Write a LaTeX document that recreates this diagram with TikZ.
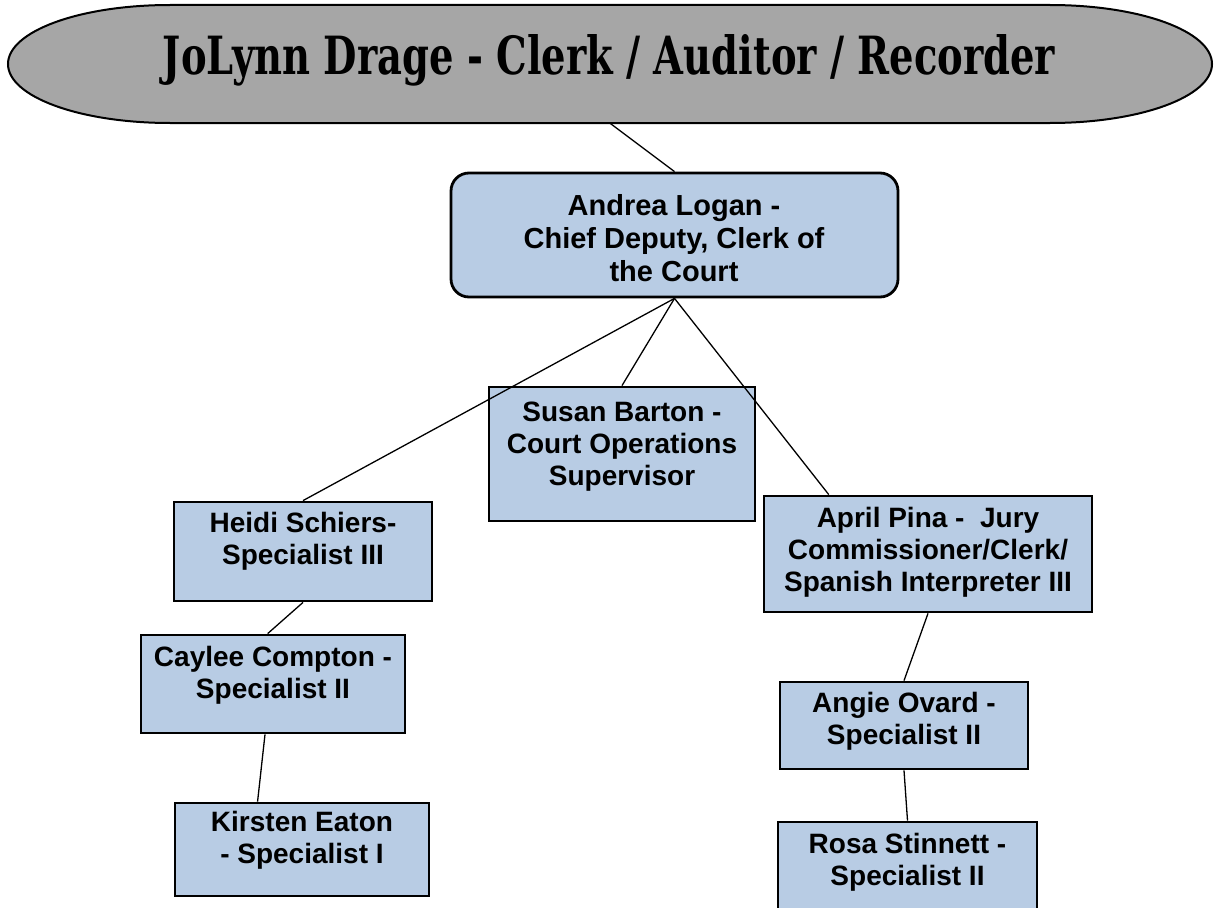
\documentclass[tikz,border=0pt]{standalone}
\usepackage{fontspec}
\usetikzlibrary{calc}
\newfontfamily\boxfont{Liberation Sans}
\newfontfamily\titlefont{DejaVu Serif Condensed}
\definecolor{boxblue}{HTML}{B8CCE4}
\definecolor{titlegray}{HTML}{A6A6A6}
\tikzset{
  orgbox/.style={draw=black, line width=2.8pt, fill=boxblue, inner sep=0pt},
  orgtext/.style={align=center, inner sep=0pt, font=\boxfont\bfseries\fontsize{28}{32}\selectfont},
  link/.style={draw=black, line width=1.3pt},
}
\begin{document}
\begin{tikzpicture}[x=1pt,y=-1pt]
\useasboundingbox (0,0) rectangle (1217,907);
\fill[white] (0,0) rectangle (1217,907);
% title
\node[inner sep=0pt, minimum width=1204pt, minimum height=118pt] (title) at (610,64) {};
\draw[line width=2pt, fill=titlegray]
  (170,5) -- (1050,5)
  .. controls (1140.6,5) and (1212,31.4) .. (1212,64)
  .. controls (1212,96.6) and (1140.6,123) .. (1050,123)
  -- (170,123)
  .. controls (79.4,123) and (8,96.6) .. (8,64)
  .. controls (8,31.4) and (79.4,5) .. (170,5) -- cycle;
\node[inner sep=0pt, anchor=base] (titletext) at (609,75)
  {\resizebox{892pt}{40pt}{\titlefont\bfseries JoLynn Drage - Clerk / Auditor / Recorder}};
% boxes
\node[orgbox, rounded corners=18pt, minimum width=447pt, minimum height=124pt] (andrea) at (674.5,235) {};
\node[orgtext, font=\boxfont\bfseries\fontsize{29}{33}\selectfont] (andreat) at (674,238) {Andrea Logan -\\Chief Deputy, Clerk of\\the Court};
\node[orgbox, minimum width=266pt, minimum height=134pt] (susan) at (622,454) {};
\node[orgtext] (susant) at (622,447) {Susan Barton -\\Court Operations\\Supervisor};
\node[orgbox, minimum width=258pt, minimum height=99pt] (heidi) at (303,551.5) {};
\node[orgtext] (heidit) at (303,541) {Heidi Schiers-\\Specialist III};
\node[orgbox, minimum width=264pt, minimum height=98pt] (caylee) at (273,684) {};
\node[orgtext] (cayleet) at (273,675) {Caylee Compton -\\Specialist II};
\node[orgbox, minimum width=254pt, minimum height=93pt] (kirsten) at (302,849.5) {};
\node[orgtext] (kirstent) at (302,840) {Kirsten Eaton\\- Specialist I};
\node[orgbox, minimum width=328pt, minimum height=116pt] (april) at (928,554) {};
\node[orgtext] (aprilt) at (928,552) {April Pina -\ \ Jury\\Commissioner/Clerk/\\Spanish Interpreter III};
\node[orgbox, minimum width=248pt, minimum height=87pt] (angie) at (904,725.5) {};
\node[orgtext] (angiet) at (904,721) {Angie Ovard -\\Specialist II};
\node[orgbox, minimum width=259pt, minimum height=92pt] (rosa) at (907.5,868) {};
\node[orgtext] (rosat) at (907.5,862) {Rosa Stinnett -\\Specialist II};
% connectors
\draw[link] (title.south) -- (andrea.north);
\draw[link] (andrea.south) -- (susan.north);
\draw[link] (andrea.south) -- (heidi.north);
\draw[link] (andrea.south) -- ($(april.north west)!0.2!(april.north east)$);
\draw[link] (heidi.south) -- ($(caylee.north west)!0.48!(caylee.north east)$);
\draw[link] ($(caylee.south west)!0.47!(caylee.south east)$) -- ($(kirsten.north west)!0.327!(kirsten.north east)$);
\draw[link] (april.south) -- (angie.north);
\draw[link] (angie.south) -- (rosa.north);
\end{tikzpicture}
\end{document}
